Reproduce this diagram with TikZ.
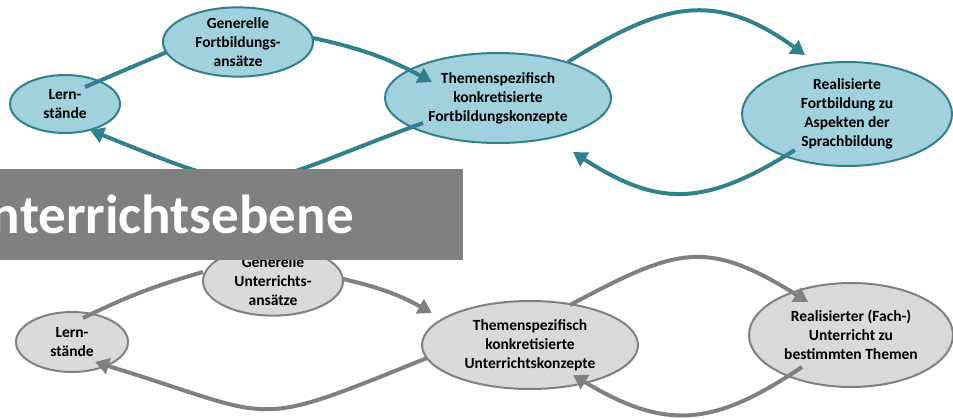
\documentclass[tikz,border=0pt]{standalone}
\usepackage{fontspec}
\setmainfont{Carlito}
\usepackage{tikz}
\usetikzlibrary{calc}
\usetikzlibrary{shapes}
\usetikzlibrary{arrows.meta}
\definecolor{fb-teal}{RGB}{49, 128, 140}
\definecolor{fb-teal-light}{RGB}{161, 209, 220}
\definecolor{ue-grey}{RGB}{128, 128, 128}
\definecolor{ue-grey-light}{RGB}{217, 217, 217}
\tikzset{
  ebene/.style = {ellipse, draw, line width=2pt, inner sep=0pt, align=center,
    font=\fontsize{15.5}{19}\selectfont\bfseries},
  fort/.style = {ebene, draw=fb-teal, fill=fb-teal-light},
  unter/.style = {ebene, draw=ue-grey, fill=ue-grey-light},
  pfeil/.style = {line width=4pt, -{Triangle[length=14pt, width=16pt]}},
  pfeilA/.style = {pfeil, fb-teal},
  pfeilB/.style = {pfeil, ue-grey},
}

\begin{document}
\begin{tikzpicture}[x=1pt, y=1pt]
          \useasboundingbox (0, 0) rectangle (953, 418);

          \node[fort, minimum width=110pt, minimum height=58pt] (lernA) at (65, 314) {Lern-\\stände};
          \node[fort, minimum width=150pt, minimum height=60pt] (genA) at (238, 376) {Generelle\\Fortbildungs-\\ansätze};
          \node[fort, minimum width=226pt, minimum height=90pt] (themA) at (498, 320) {Themenspezifisch\\konkretisierte\\Fortbildungskonzepte};
          \node[fort, minimum width=210pt, minimum height=104pt] (realA) at (847, 304) {Realisierte\\Fortbildung zu\\Aspekten der\\Sprachbildung};

          \draw[pfeilA, -] ($(lernA) + (20, 17)$) -- ($(genA) + (-71, -10)$);
          \draw[pfeilA] ($(genA) + (75, 4)$) to[bend left=8] ($(themA) + (-66, 16)$);
          \draw[pfeilA] ($(themA) + (-75, -25)$) to[out=200, in=-22, looseness=1.5] ($(lernA) + (25, -26)$);
          \draw[pfeilA] ($(themA) + (70, 36)$) to[out=32, in=144, looseness=1.2] ($(realA) + (-42, 59)$);
          \draw[pfeilA] ($(realA) + (-52, -36)$) to[out=212, in=-33, looseness=1.2] ($(themA) + (75, -54)$);

          \node[unter, minimum width=112pt, minimum height=60pt] (lernB) at (72, 76) {Lern-\\stände};
          \node[unter, minimum width=140pt, minimum height=58pt] (genB) at (273, 137) {Generelle\\Unterrichts-\\ansätze};
          \node[unter, minimum width=216pt, minimum height=88pt] (themB) at (530, 73) {Themenspezifisch\\konkretisierte\\Unterrichtskonzepte};
          \node[unter, minimum width=204pt, minimum height=104pt] (realB) at (851, 83) {Realisierter (Fach-)\\Unterricht zu\\bestimmten Themen};

          \draw[pfeilB, -] ($(lernB) + (11, 24)$) to[bend left=5] ($(genB) + (-70, 9)$);
          \draw[pfeilB] ($(genB) + (70, 2)$) to[bend left=8] ($(themB) + (-98, 32)$);
          \draw[pfeilB] ($(themB) + (-103, -13)$) to[out=202, in=-17, looseness=1.5] ($(lernB) + (23, -20)$);
          \draw[pfeilB] ($(themB) + (40, 40)$) to[out=28, in=148, looseness=1.3] ($(realB) + (-43, 33)$);
          \draw[pfeilB] ($(realB) + (-49, -32)$) to[out=214, in=-31, looseness=1.2] ($(themB) + (43, -30)$);

          \fill[ue-grey] (0, 158) rectangle (463, 249);
          \node[anchor=base east, inner sep=0pt, text=white, font=\fontsize{55}{64}\selectfont\bfseries] (titel) at (354, 184) {Unterrichtsebene};

        \end{tikzpicture}
\end{document}
